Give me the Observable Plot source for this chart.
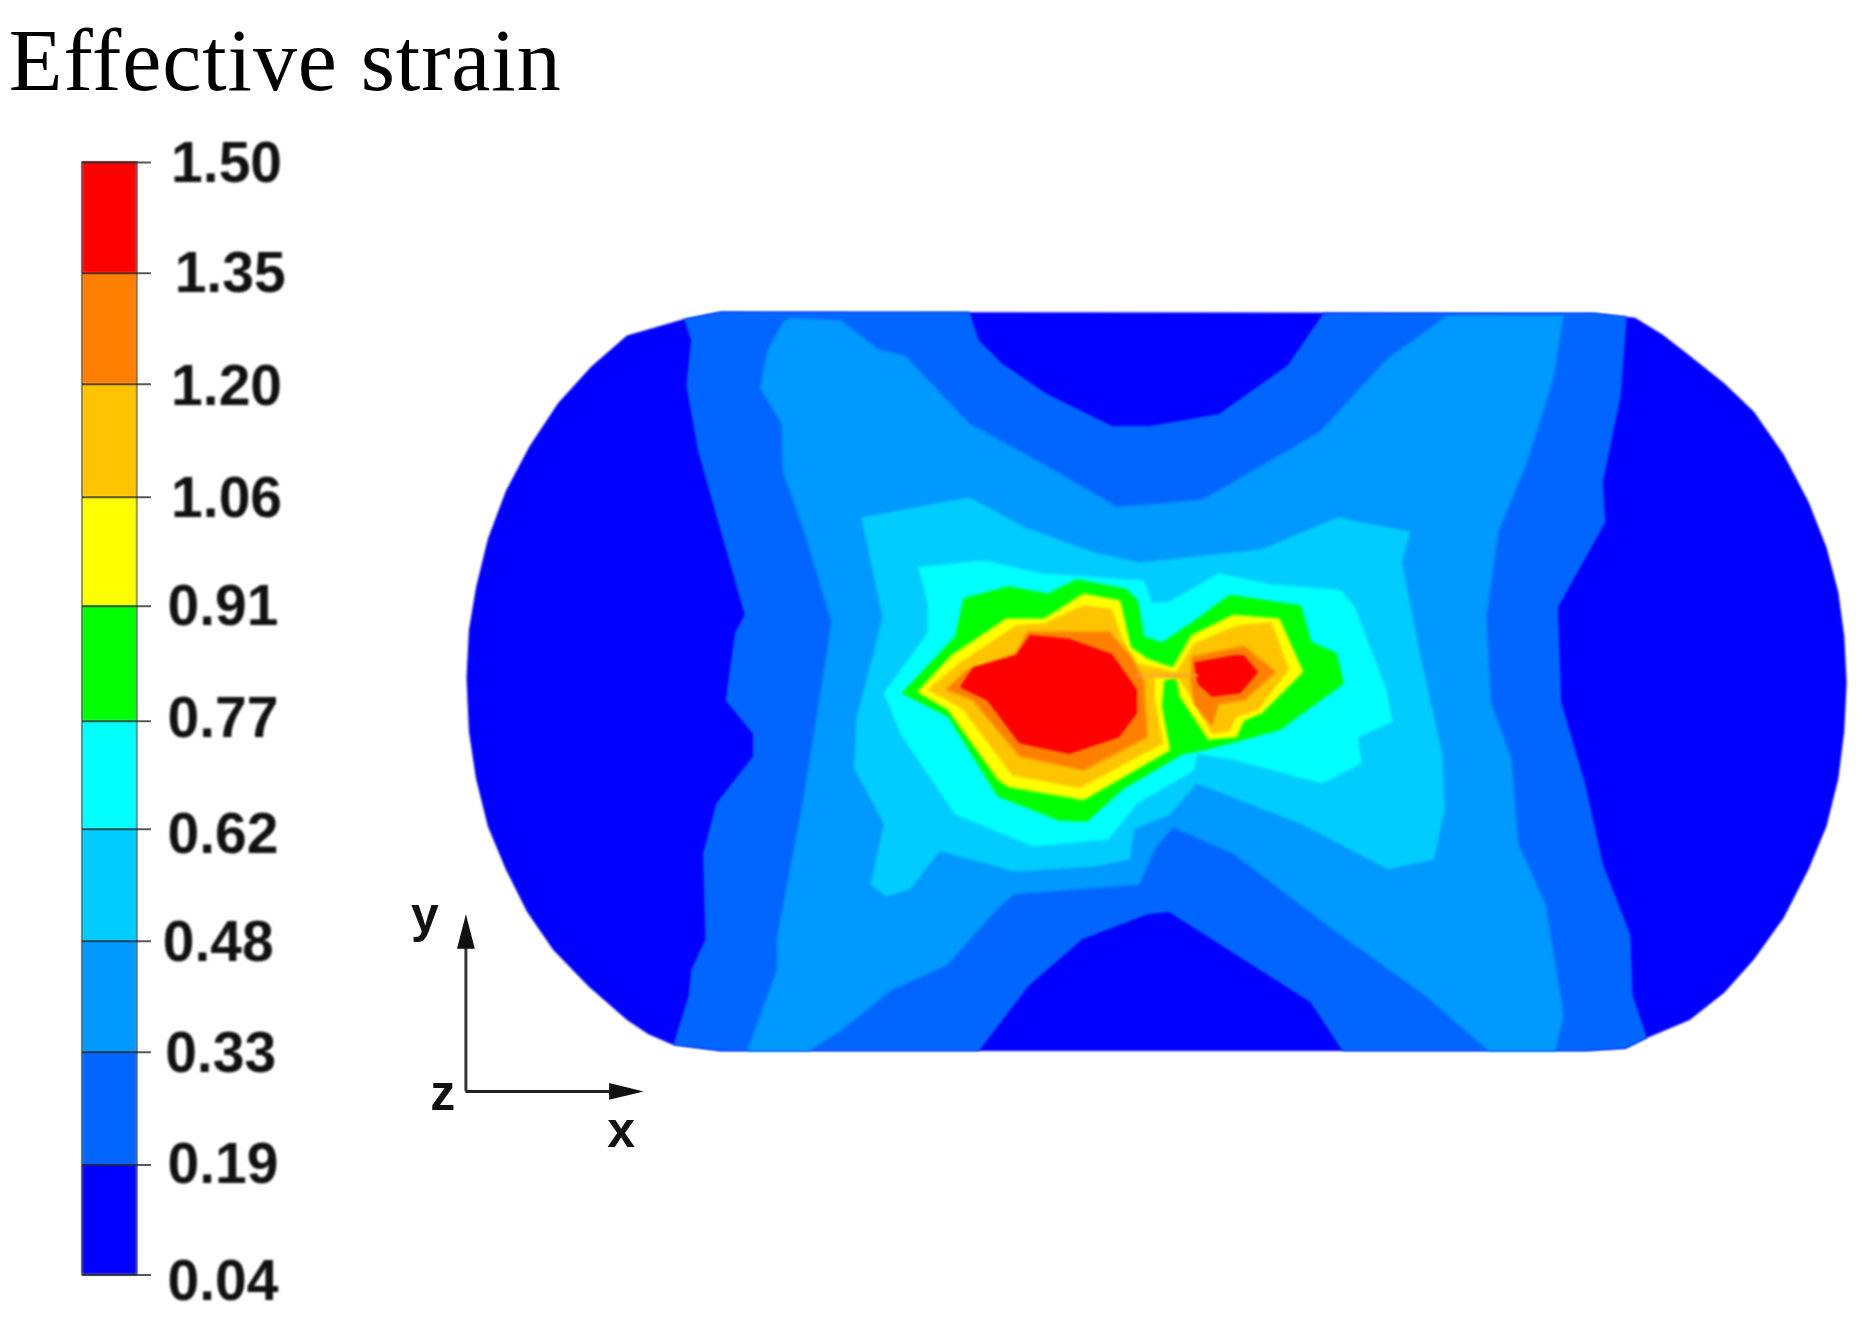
<!DOCTYPE html>
<html><head><meta charset="utf-8">
<script src="https://cdn.jsdelivr.net/npm/d3@7"></script>
<script src="https://cdn.jsdelivr.net/npm/@observablehq/plot@0.6"></script>
<style>html,body{margin:0;padding:0;background:#fff}svg{display:block}</style>
</head><body><div id="chart"></div>
<script>
const tickLabels = ["1.50","1.35","1.20","1.06","0.91","0.77","0.62","0.48","0.33","0.19","0.04"];
const tickPos = [136.3,229.6,323,418,509.8,606.5,697.3,791.6,885,980,1072.5];
const labelPosY = [137,230,325,419,510,604,702,793,886,980,1078];
const labelPosX = [143.5,146.5,143.5,143.5,140.5,140.5,140.5,136.5,138.5,140.5,140.5];
const bandColors = ["#ff0000","#ff7f00","#ffc400","#ffff00","#00ff00","#00ffff","#00ccff","#0099ff","#0066ff","#0000ff"];

const outline = [[606,262],[1340,263],[1375,267],[1398,281],[1421,299],[1450,322],[1475,346],[1500,382],[1521,422],[1536,460],[1546,498],[1551,535],[1553,574],[1551,615],[1546,655],[1536,695],[1521,731],[1500,772],[1475,807],[1450,835],[1421,858],[1385,873],[1367,882],[1333,884],[606,884],[566,879],[545,870],[527,858],[495,830],[465,799],[443,767],[425,731],[410,695],[400,655],[394,615],[392,570],[394,530],[400,494],[410,453],[425,413],[445,375],[469,339],[497,308],[527,282],[575,268]];
const level1 = [[575,268],[606,262],[815,262],[823,286],[842,305],[880,331],[935,358],[967,358],[1025,348],[1083,307],[1113,263],[1340,263],[1368,266],[1363,333],[1348,405],[1350,439],[1310,511],[1313,591],[1333,659],[1348,727],[1371,786],[1373,837],[1385,873],[1367,882],[1333,884],[1129,884],[1102,843],[983,767],[965,769],[910,790],[865,829],[823,884],[606,884],[566,879],[579,837],[581,816],[593,790],[591,718],[602,676],[633,636],[633,617],[610,589],[618,532],[626,517],[587,380],[577,324],[581,286]];
const level2 = [[664,267],[707,269],[738,293],[761,299],[815,356],[881,392],[939,426],[967,424],[1011,420],[1063,390],[1110,363],[1167,301],[1217,265],[1315,265],[1306,320],[1283,392],[1260,447],[1250,519],[1254,591],[1271,638],[1277,710],[1300,761],[1315,854],[1308,884],[1252,884],[1198,837],[1121,782],[1037,718],[986,696],[971,714],[958,744],[853,752],[838,765],[796,812],[749,833],[707,867],[680,884],[628,884],[653,816],[653,790],[676,668],[699,523],[676,447],[658,396],[657,356],[639,326],[645,295],[658,271]];
const level3 = [[724,435],[815,418],[861,443],[919,464],[958,473],[1060,462],[1125,435],[1186,447],[1179,473],[1194,549],[1213,634],[1215,680],[1206,723],[1167,731],[1094,693],[1006,659],[984,685],[954,697],[950,723],[919,729],[853,733],[790,716],[765,748],[745,754],[732,744],[743,693],[718,646],[720,604],[742,519]];
const level4 = [[772,477],[827,471],[875,482],[962,488],[969,507],[983,506],[1025,482],[1067,491],[1127,496],[1139,510],[1166,580],[1171,607],[1142,620],[1145,642],[1112,659],[1037,639],[1007,634],[1004,648],[956,676],[932,706],[869,712],[803,685],[757,617],[743,583],[780,532],[780,507]];
const level5 = [[810,503],[848,493],[881,499],[905,487],[947,495],[957,505],[962,535],[977,540],[1001,524],[1034,500],[1094,509],[1103,540],[1124,549],[1130,575],[1076,614],[1046,622],[1013,631],[995,634],[944,664],[914,691],[890,690],[839,670],[797,603],[758,583],[803,535]];
const level6 = [[846,520],[878,520],[911,499],[942,505],[951,544],[965,554],[986,561],[1002,534],[1037,517],[1076,520],[1096,565],[1061,600],[1046,606],[1040,620],[1016,622],[992,586],[989,569],[979,572],[977,594],[984,631],[911,673],[848,662],[839,656],[797,597],[771,582],[800,551]];
const level7 = [[854,526],[878,524],[911,509],[935,512],[944,538],[957,558],[989,565],[1004,541],[1040,526],[1069,523],[1084,563],[1058,597],[1040,603],[1034,615],[1019,617],[1003,589],[992,572],[971,569],[971,589],[978,625],[908,663],[851,652],[809,596],[780,580],[806,558]];
const level8a = [[864,531],[917,531],[933,531],[953,555],[962,572],[965,620],[911,648],[857,636],[818,589],[795,580],[812,564],[854,549]];
const level8b = [[1002,552],[1046,543],[1073,565],[1046,589],[1025,592],[1019,611],[1004,592],[1001,572]];
const level9a = [[866,534],[899,537],[935,550],[956,580],[956,600],[941,620],[899,634],[857,625],[830,589],[807,578],[818,561],[854,551]];
const level9b = [[1004,557],[1037,551],[1046,551],[1058,565],[1043,583],[1019,586],[1007,575]];
const streak = [[955,568],[1007,568]];
const arrowY = [[391.5,769],[384,798],[399,798]];
const arrowX = [[541,918],[512,911],[512,925]];

const layers = [
  [outline,9,"blur(0.9px)"],[level1,8,"blur(1.2px)"],[level2,7,"blur(1.4px)"],[level3,6,"blur(1.4px)"],[level4,5,"blur(1.4px)"],[level5,4,"blur(1.4px)"],[level6,3,"blur(1.4px)"],[level7,2,"blur(1.4px)"],[level8a,1,"blur(1.4px)"],[level8b,1,"blur(1.4px)"],[level9a,0,"blur(1.2px)"],[level9b,0,"blur(1.2px)"]
];
const bands = bandColors.map((c,i)=>({i,top:tickPos[i],bottom:tickPos[i+1]}));
const ticks = tickLabels.map((t,i)=>({t,y:tickPos[i],ly:labelPosY[i],lx:labelPosX[i]}));
const poly = (pts,band,f)=>Plot.line(pts,{x:d=>d[0],y:d=>d[1],curve:"linear-closed",fill:()=>band,stroke:null,imageFilter:f});

const plot = Plot.plot({
  width:1864,height:1325,margin:0,
  x:{domain:[0,1568],range:[0,1864],axis:null},
  y:{domain:[0,1115],range:[0,1325],axis:null},
  color:{type:"ordinal",domain:d3.range(10),range:bandColors},
  marks:[
    ...layers.map(([pts,b,f])=>poly(pts,b,f)),
    Plot.line(streak,{x:d=>d[0],y:d=>d[1],stroke:"#ffa040",strokeWidth:2,imageFilter:"blur(0.8px)"}),
    Plot.rect(bands,{x1:69,x2:115,y1:"top",y2:"bottom",fill:"i",imageFilter:"blur(0.9px)"}),
    Plot.rect([0],{x1:69,x2:115,y1:tickPos[0],y2:tickPos[10],fill:"none",stroke:"#000",strokeOpacity:0.4,strokeWidth:2,imageFilter:"blur(0.7px)"}),
    Plot.ruleY(ticks,{y:"y",x1:69,x2:127,stroke:"#222",strokeOpacity:0.75,strokeWidth:2,imageFilter:"blur(0.5px)"}),
    Plot.text(ticks,{x:"lx",y:"ly",text:"t",textAnchor:"start",fontFamily:"Liberation Sans",fontWeight:"bold",fontSize:57,fill:"#111",imageFilter:"blur(0.8px)"}),
    Plot.text(["Effective strain"],{x:7,y:52,text:d=>d,textAnchor:"start",fontFamily:"Liberation Serif",fontSize:88,fill:"#000",title:null,className:"main-title"}),
    Plot.ruleX([391.5],{y1:797,y2:918,stroke:"#333",strokeWidth:3,imageFilter:"blur(0.5px)"}),
    Plot.ruleY([918],{x1:391.5,x2:513,stroke:"#222",strokeWidth:3,imageFilter:"blur(0.5px)"}),
    Plot.line(arrowY,{x:d=>d[0],y:d=>d[1],curve:"linear-closed",fill:"#111",stroke:null,imageFilter:"blur(0.5px)"}),
    Plot.line(arrowX,{x:d=>d[0],y:d=>d[1],curve:"linear-closed",fill:"#111",stroke:null,imageFilter:"blur(0.5px)"}),
    Plot.text([["y",357,770],["z",372,920],["x",522,951]],{x:d=>d[1],y:d=>d[2],text:d=>d[0],fontFamily:"Liberation Sans",fontWeight:"bold",fontSize:50,fill:"#111",imageFilter:"blur(0.7px)"})
  ]
});
plot.querySelectorAll("text").forEach(t=>{ if(t.textContent==="Effective strain") t.style.letterSpacing="0.9px"; });
document.getElementById("chart").append(plot);
</script>
</body></html>
